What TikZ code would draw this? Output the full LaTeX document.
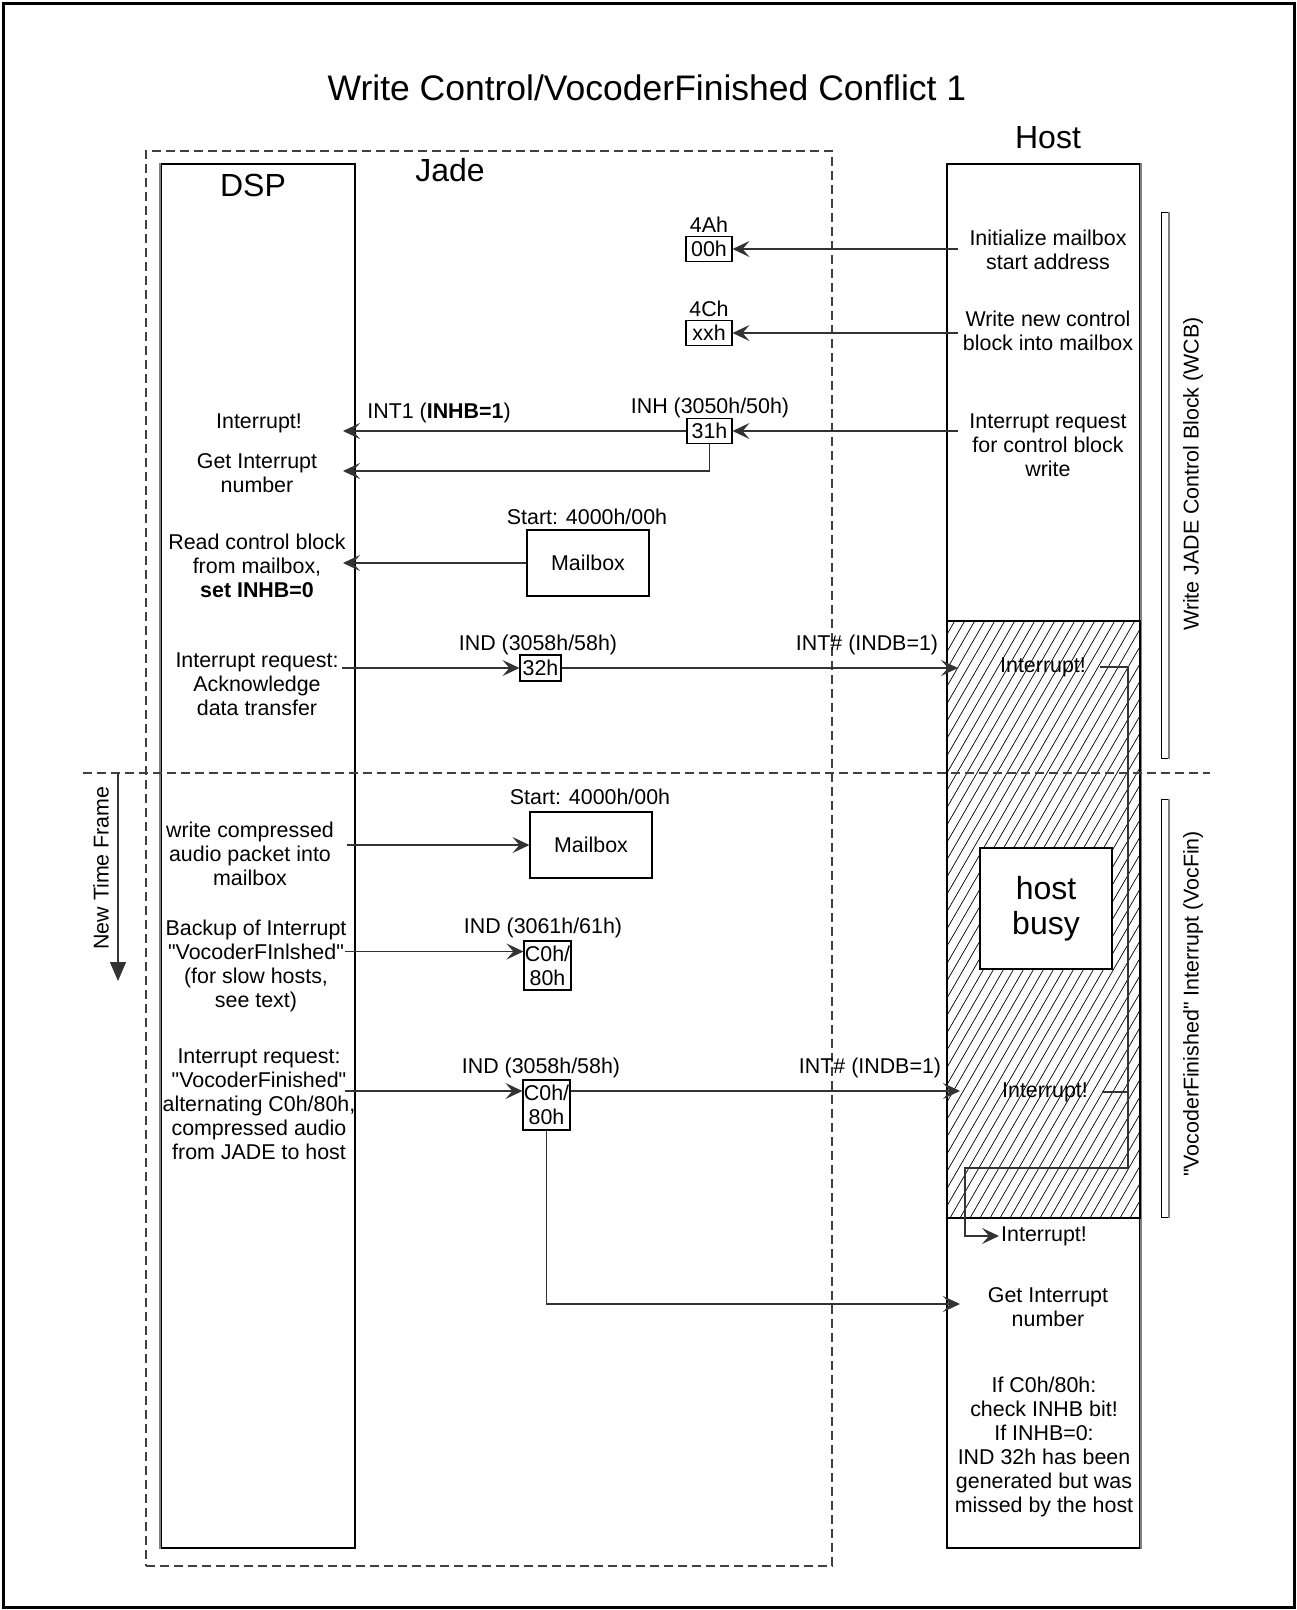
\documentclass[tikz,border=0pt]{standalone}
\usepackage{fontspec}
\setmainfont{Liberation Sans}
\usetikzlibrary{arrows.meta}
\begin{document}
\begin{tikzpicture}[x=1pt,y=-1pt,
  ln/.style={draw=black!80,line width=1.1pt},
  boxn/.style={draw=black,line width=1.1pt,inner sep=0pt},
  txt/.style={font=\fontsize{21.4}{24}\selectfont,align=center,inner sep=0pt},
  big/.style={font=\fontsize{32}{35}\selectfont,align=center,inner sep=0pt},
  ttlf/.style={font=\fontsize{35.5}{40}\selectfont,inner sep=0pt},
  arr/.style={ln,-{Stealth[length=17pt,width=16pt,inset=7pt]}},
  dashln/.style={draw=black!75,line width=1.1pt,dash pattern=on 9pt off 5pt},
  barn/.style={draw=black,line width=1pt,inner sep=0pt,minimum width=7pt},
]
\useasboundingbox (0,0) rectangle (1297,1610);
\draw[line width=3pt] (3,3) rectangle (1294,1607);

% title and group labels
\node[ttlf] (ttl) at (647,88) {Write Control/VocoderFinished Conflict 1};
\node[dashln,inner sep=0pt,minimum width=686pt,minimum height=1415pt] (jade) at (489,858.5) {};
\node[big] (jadel) at (450,170) {Jade};

% lifelines
\node[boxn,minimum width=194pt,minimum height=1384pt] (dsp) at (258,856) {};
\node[boxn,minimum width=193pt,minimum height=1384pt] (host) at (1043.5,856) {};
\draw[gray,line width=2pt] (dsp.north west) -- (dsp.south west);
\draw[gray,line width=2pt] (host.north east) -- (host.south east);
\node[big] (dspl) at (253,185) {DSP};
\node[big] (hostl) at (1048,138) {Host};

% hatched busy region
\begin{scope}
\clip (947,621) rectangle (1140,1218);
\foreach \i in {0,...,55} {\draw[line width=0.7pt] (600+10*\i,1218) -- (944.7+10*\i,621);}
\end{scope}
\node[boxn,minimum width=193pt,minimum height=597pt] (hatch) at (1043.5,919.5) {};
\node[boxn,fill=white,minimum width=132pt,minimum height=121pt,font=\fontsize{32}{35}\selectfont,align=center] (busy) at (1046,908.5) {host\\busy};

% time frame separator
\coordinate (tl1) at (83,773);
\coordinate (tl2) at (1210,773);
\draw[dashln] (tl1) -- (tl2);
\coordinate (nt1) at (118,773);
\coordinate (nt2) at (118,981);
\draw[ln,-{Triangle[length=19pt,width=16pt]}] (nt1) -- (nt2);
\node[txt,rotate=90] (ntf) at (101,868) {New Time Frame};

% right side phase bars
\node[barn,minimum height=546pt] (bar1) at (1164.5,485) {};
\node[barn,minimum height=418pt] (bar2) at (1164.5,1008) {};
\draw[gray,line width=2pt] (bar1.north east) -- (bar1.south east);
\draw[gray,line width=2pt] (bar2.north east) -- (bar2.south east);
\node[txt,rotate=90] (wcb) at (1193,474) {Write JADE Control Block (WCB)};
\node[txt,rotate=90] (vocfin) at (1193,1004) {\textquotedbl VocoderFinished\textquotedbl{} Interrupt (VocFin)};

% register boxes
\node[boxn,txt,minimum width=46pt,minimum height=25pt] (r4A) at (709,249) {00h};
\node[txt] (l4A) at (709,225) {4Ah};
\node[boxn,txt,minimum width=46pt,minimum height=25pt] (r4C) at (709,333) {xxh};
\node[txt] (l4C) at (709,309) {4Ch};
\node[boxn,txt,minimum width=45pt,minimum height=25pt] (r31) at (709.5,431) {31h};
\node[txt] (lINH) at (710,408) {INH (3050h/50h)};
\node[boxn,txt,minimum width=41pt,minimum height=26pt] (r32) at (540.5,668) {32h};
\node[txt] (lIND1) at (538,645) {IND (3058h/58h)};
\node[txt] (lINTh1) at (867,645) {INT\# (INDB=1)};
\node[boxn,txt,minimum width=47pt,minimum height=49pt] (rb) at (547.5,965.5) {C0h/\\80h};
\node[txt] (lIND61) at (543,928) {IND (3061h/61h)};
\node[boxn,txt,minimum width=47pt,minimum height=50pt] (rv) at (546.5,1105) {C0h/\\80h};
\node[txt] (lIND2) at (541,1068) {IND (3058h/58h)};
\node[txt] (lINTh2) at (870,1068) {INT\# (INDB=1)};

% mailboxes
\node[boxn,txt,minimum width=122pt,minimum height=66pt] (mb1) at (588,563) {Mailbox};
\node[txt] (lst1) at (587,517) {Start: 4000h/00h};
\node[boxn,txt,minimum width=122pt,minimum height=66pt] (mb2) at (591,845) {Mailbox};
\node[txt] (lst2) at (590,797) {Start: 4000h/00h};

% host texts
\node[txt] (hinit) at (1048,249.5) {Initialize mailbox\\start address};
\node[txt] (hwrite) at (1048,331) {Write new control\\block into mailbox};
\node[txt] (hint) at (1048,445) {Interrupt request\\for control block\\write};
\node[txt] (hi1) at (1043,667) {Interrupt!};
\node[txt] (hi2) at (1045,1092) {Interrupt!};
\node[txt,anchor=west] (hi3) at (1001,1236) {Interrupt!};
\node[txt] (hget) at (1048,1307) {Get Interrupt\\number};
\node[txt] (hcheck) at (1044,1447) {If C0h/80h:\\check INHB bit!\\If INHB=0:\\IND 32h has been\\generated but was\\missed by the host};

% DSP texts
\node[txt] (dint) at (259,423) {Interrupt!};
\node[txt] (lINT1) at (439,413) {INT1 (\textbf{INHB=1})};
\node[txt] (dget) at (257,473) {Get Interrupt\\number};
\node[txt] (dread) at (257,566) {Read control block\\from mailbox,\\\textbf{set INHB=0}};
\node[txt] (dreq) at (257,684) {Interrupt request:\\Acknowledge\\data transfer};
\node[txt] (dwrite) at (250,854) {write compressed\\audio packet into\\mailbox};
\node[txt] (dbackup) at (256,966) {Backup of Interrupt\\\textquotedbl VocoderFInlshed\textquotedbl\\(for slow hosts,\\see text)};
\node[txt] (dvoc) at (259,1104) {Interrupt request:\\\textquotedbl VocoderFinished\textquotedbl\\alternating C0h/80h,\\compressed audio\\from JADE to host};

% connector end points
\coordinate (h1) at (958,249);
\coordinate (h2) at (958,333);
\coordinate (h3) at (958,431);
\coordinate (d1) at (343,431);
\coordinate (c31) at (709.5,471);
\coordinate (d2) at (343,471);
\coordinate (d3) at (343,563);
\coordinate (d4) at (342,668);
\coordinate (h4) at (958,668);
\coordinate (d5) at (347,845);
\coordinate (d6) at (345,951.5);
\coordinate (d7) at (345,1091);
\coordinate (h7) at (960,1091);
\coordinate (g1) at (960,1304);
\coordinate (cR) at (1128,1168);
\coordinate (cL) at (965,1236);

% connectors
\draw[arr] (h1) -- (r4A.east);
\draw[arr] (h2) -- (r4C.east);
\draw[arr] (h3) -- (r31.east);
\draw[arr] (r31.west) -- (d1);
\draw[arr] (r31.south) |- (d2);
\draw[arr] (mb1.west) -- (d3);
\draw[arr] (d4) -- (r32.west);
\draw[arr] (r32.east) -- (h4);
\draw[arr] (d5) -- (mb2.west);
\draw[arr] (d6) -- (d6 -| rb.west);
\draw[arr] (d7) -- (d7 -| rv.west);
\draw[arr] (d7 -| rv.east) -- (h7);
\draw[arr] (rv.south) |- (g1);
\draw[arr] ([xshift=14pt]hi1.east) -| (cR) -| (cL) -- ([xshift=-2pt]hi3.west);
\draw[ln] ([xshift=14pt]hi2.east) -- (hi2.east -| cR);
\end{tikzpicture}
\end{document}
